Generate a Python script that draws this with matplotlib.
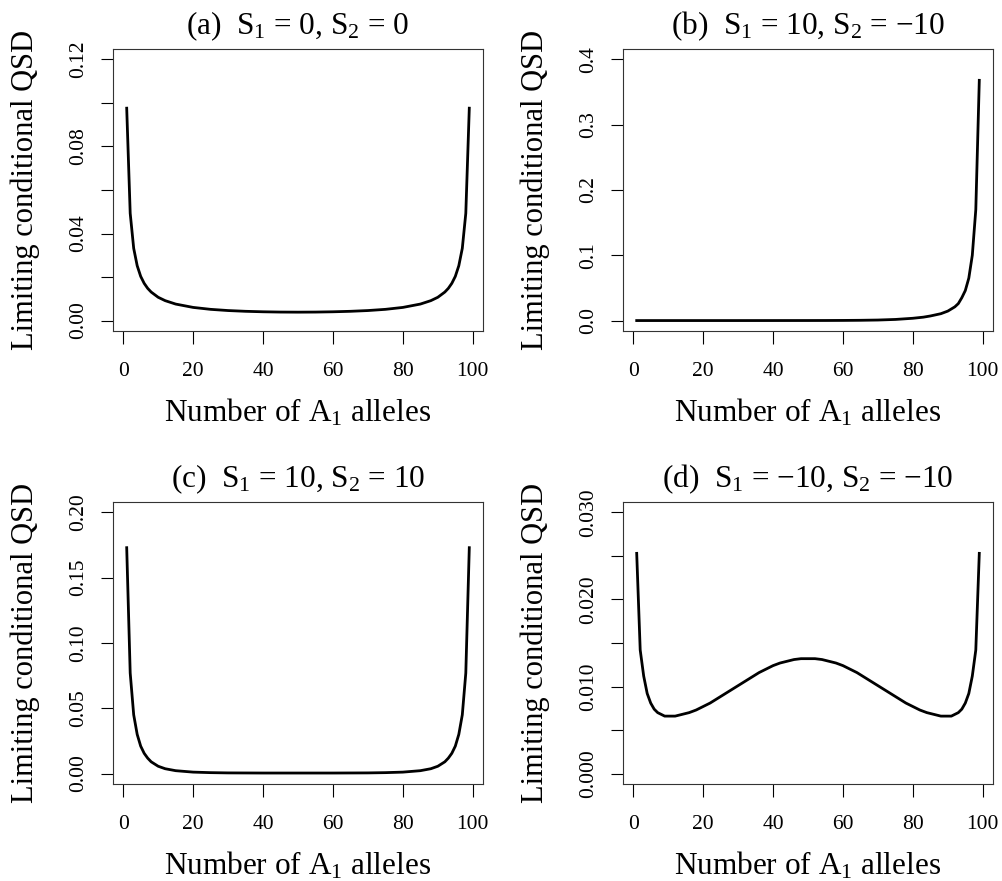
import matplotlib
matplotlib.use("Agg")
import matplotlib.pyplot as plt

plt.rcParams['font.family'] = ['Liberation Serif', 'DejaVu Serif']
plt.rcParams['mathtext.fontset'] = 'custom'
plt.rcParams['mathtext.rm'] = 'Liberation Serif'

# number of A1 alleles (read positions) and limiting conditional QSD values
x_a = [1, 2, 3, 4, 5, 6, 7, 8, 10, 12, 15, 20, 25, 30, 35, 40, 45, 50,
       55, 60, 65, 70, 75, 80, 85, 88, 90, 92, 93, 94, 95, 96, 97, 98, 99]
qsd_a = [0.0976, 0.0493, 0.0332, 0.0252, 0.0203, 0.0171, 0.0148, 0.0131, 0.0107,
         0.00915, 0.00758, 0.00604, 0.00515, 0.00460, 0.00425, 0.00403, 0.00390, 0.00386,
         0.00390, 0.00403, 0.00425, 0.00460, 0.00515, 0.00604, 0.00758, 0.00915, 0.0107,
         0.0131, 0.0148, 0.0171, 0.0203, 0.0252, 0.0332, 0.0493, 0.0976]

x_b = [1, 10, 20, 30, 40, 50, 55, 60, 65, 70, 75, 80, 83, 85, 88, 90, 92, 93,
       94, 95, 96, 97, 98, 99]
qsd_b = [0.0, 0.0, 0.0, 0.0, 0.00002, 0.00006, 0.0001, 0.0002, 0.0004, 0.0008,
         0.0017, 0.0035, 0.0052, 0.0070, 0.0105, 0.0145, 0.021, 0.026,
         0.035, 0.046, 0.065, 0.100, 0.170, 0.368]

x_c = [1, 2, 3, 4, 5, 6, 7, 8, 10, 12, 15, 20, 25, 30, 40, 50,
       60, 70, 75, 80, 85, 88, 90, 92, 93, 94, 95, 96, 97, 98, 99]
qsd_c = [0.173, 0.077, 0.045, 0.030, 0.021, 0.0155, 0.0118, 0.0090, 0.0056, 0.0037,
         0.0022, 0.0011, 0.0007, 0.0005, 0.0004, 0.0004,
         0.0004, 0.0005, 0.0007, 0.0011, 0.0022, 0.0037, 0.0056, 0.0090, 0.0118,
         0.0155, 0.021, 0.030, 0.045, 0.077, 0.173]

x_d = [1, 2, 3, 4, 5, 6, 7, 8, 9, 10, 11, 12, 14, 16, 18, 20, 22, 24, 26, 28,
       30, 32, 34, 36, 38, 40, 42, 44, 46, 48, 50,
       52, 54, 56, 58, 60, 62, 64, 66, 68, 70, 72, 74, 76, 78, 80, 82, 84, 86,
       88, 89, 90, 91, 92, 93, 94, 95, 96, 97, 98, 99]
qsd_d = [0.0253, 0.0142, 0.0112, 0.0092, 0.0081, 0.0074, 0.0070, 0.0068, 0.0066,
         0.0066, 0.0066, 0.0066, 0.0068, 0.0070, 0.0073, 0.0077, 0.0081, 0.0086,
         0.0091, 0.0096, 0.0101, 0.0106, 0.0111, 0.0116, 0.0120, 0.0124, 0.0127,
         0.0129, 0.0131, 0.0132, 0.0132,
         0.0132, 0.0131, 0.0129, 0.0127, 0.0124, 0.0120, 0.0116, 0.0111, 0.0106,
         0.0101, 0.0096, 0.0091, 0.0086, 0.0081, 0.0077, 0.0073, 0.0070, 0.0068,
         0.0066, 0.0066, 0.0066, 0.0066, 0.0068, 0.0070, 0.0074, 0.0081, 0.0092,
         0.0112, 0.0142, 0.0253]

titles = [r"(a)  $\mathregular{S_1}$ = 0, $\mathregular{S_2}$ = 0",
          r"(b)  $\mathregular{S_1}$ = 10, $\mathregular{S_2}$ = −10",
          r"(c)  $\mathregular{S_1}$ = 10, $\mathregular{S_2}$ = 10",
          r"(d)  $\mathregular{S_1}$ = −10, $\mathregular{S_2}$ = −10"]

# y axis: top limit, all tick positions, labelled tick positions, label format
y_tops = [0.12, 0.4, 0.20, 0.030]
y_ticks = [[0, 0.02, 0.04, 0.06, 0.08, 0.10, 0.12],
           [0, 0.1, 0.2, 0.3, 0.4],
           [0, 0.05, 0.10, 0.15, 0.20],
           [0, 0.005, 0.010, 0.015, 0.020, 0.025, 0.030]]
y_shown = [[0, 0.04, 0.08, 0.12], None, None, [0, 0.010, 0.020, 0.030]]
y_fmt = ["{:.2f}", "{:.1f}", "{:.2f}", "{:.3f}"]

xs = [x_a, x_b, x_c, x_d]
ys = [qsd_a, qsd_b, qsd_c, qsd_d]

fig = plt.figure(figsize=(10.03, 8.81), dpi=100)

W, H = 1003, 881
boxes = [(113, 49), (623, 49), (113, 502), (623, 502)]
bw, bh = 370, 282

for i in range(4):
    l, t = boxes[i]
    ax = fig.add_axes([l / W, 1 - (t + bh) / H, bw / W, bh / H])
    ax.plot(xs[i], ys[i], color='black', lw=2.0)

    ax.set_xlim(1 - 0.04 * 98, 99 + 0.04 * 98)
    top = y_tops[i]
    ax.set_ylim(-0.04 * top, top * 1.04)

    ax.set_xticks([0, 20, 40, 60, 80, 100])
    ax.set_xticklabels(["0", "20", "40", "60", "80", "100"])
    ax.set_yticks(y_ticks[i])
    shown = y_shown[i] if y_shown[i] is not None else y_ticks[i]
    labs = []
    for v in y_ticks[i]:
        if any(abs(v - s) < 1e-9 for s in shown):
            labs.append(y_fmt[i].format(v))
        else:
            labs.append("")
    ax.set_yticklabels(labs, rotation=90, va='center')

    ax.tick_params(axis='both', direction='out', length=9, width=0.8,
                   labelsize=15.5, color='black')
    ax.tick_params(axis='x', pad=13)
    ax.tick_params(axis='y', pad=9)
    for sp in ax.spines.values():
        sp.set_linewidth(0.8)
        sp.set_color('#333333')

    ax.set_title(titles[i], fontsize=22.5, pad=11)
    ax.set_xlabel(r"Number of $\mathregular{A_1}$ alleles", fontsize=22.5)
    ax.xaxis.label.set_va('baseline')
    ax.xaxis.set_label_coords(0.5, -0.322)
    ax.set_ylabel("Limiting conditional QSD", fontsize=22)
    ax.yaxis.label.set_va('center')
    ax.yaxis.set_label_coords(-0.238, 0.5)

fig.savefig("out.png", dpi=100)
